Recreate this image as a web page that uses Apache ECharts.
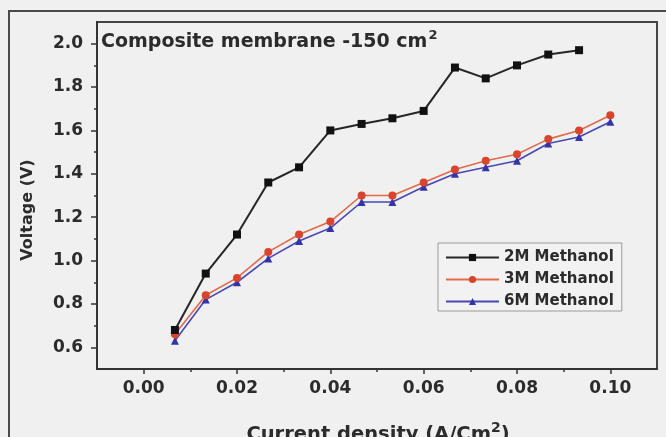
<!DOCTYPE html>
<html>
<head>
<meta charset="utf-8">
<script src="https://cdn.jsdelivr.net/npm/echarts@6/dist/echarts.min.js"></script>
<style>
  html, body { margin: 0; padding: 0; background: #f0f0f0; }
  #chart { width: 666px; height: 437px; }
</style>
</head>
<body>
<div id="chart"></div>
<script>
// Current density (A/cm²) for 1..15 A over a 150 cm² membrane
const currentDensity = [0.0067, 0.0133, 0.02, 0.0267, 0.0333, 0.04, 0.0467, 0.0533,
                        0.06, 0.0667, 0.0733, 0.08, 0.0867, 0.0933, 0.1];

// Cell voltage (V) for each methanol concentration
const volt2M = [0.68, 0.94, 1.12, 1.36, 1.43, 1.60, 1.63, 1.656, 1.69, 1.89, 1.84, 1.90, 1.95, 1.97];
const volt3M = [0.66, 0.84, 0.92, 1.04, 1.12, 1.18, 1.30, 1.30, 1.36, 1.42, 1.46, 1.49, 1.56, 1.60, 1.67];
const volt6M = [0.63, 0.82, 0.90, 1.01, 1.09, 1.15, 1.27, 1.27, 1.34, 1.40, 1.43, 1.46, 1.54, 1.57, 1.64];

const seriesNames = ['2M Methanol', '3M Methanol', '6M Methanol'];

// Axis tick positions
const xMajorTicks = [0, 0.02, 0.04, 0.06, 0.08, 0.10];
const xMinorTicks = [0.01, 0.03, 0.05, 0.07, 0.09];
const yMajorTicks = [0.6, 0.8, 1.0, 1.2, 1.4, 1.6, 1.8, 2.0];
const yMinorTicks = [0.7, 0.9, 1.1, 1.3, 1.5, 1.7, 1.9];

const pairs = (xs, ys) => ys.map((y, i) => [xs[i], y]);

const FONT = 'DejaVu Sans';
const INK = '#2b2b2b';
const X_MIN = -0.01, X_MAX = 0.11, Y_MIN = 0.5, Y_MAX = 2.1;
const GRID = { left: 97, right: 9, top: 22, bottom: 68 };

const tickLine = { color: '#333', width: 1.5 };

const chart = echarts.init(document.getElementById('chart'), null, { renderer: 'canvas' });

chart.setOption({
  backgroundColor: '#f0f0f0',
  animation: false,
  grid: [
    Object.assign({
      show: true,
      borderColor: '#454545',
      borderWidth: 2,
      backgroundColor: 'transparent',
      containLabel: false,
      outerBoundsMode: 'none'
    }, GRID),
    // same rectangle, carries the short minor ticks
    Object.assign({ show: false, containLabel: false, outerBoundsMode: 'none' }, GRID)
  ],
  xAxis: [
    {
      gridIndex: 0, type: 'value', min: X_MIN, max: X_MAX, interval: 0.01,
      axisLine: { show: true, onZero: false, lineStyle: { color: '#333', width: 2 } },
      axisTick: { show: true, customValues: xMajorTicks, length: 5, lineStyle: tickLine },
      axisLabel: {
        customValues: xMajorTicks, margin: 11,
        fontFamily: FONT, fontWeight: 'bold', fontSize: 17, color: INK,
        formatter: v => v.toFixed(2)
      },
      splitLine: { show: false }
    },
    {
      gridIndex: 1, type: 'value', min: X_MIN, max: X_MAX, interval: 0.01,
      position: 'bottom',
      axisLine: { show: false, onZero: false },
      axisTick: { show: true, customValues: xMinorTicks, length: 3, lineStyle: tickLine },
      axisLabel: { show: false },
      splitLine: { show: false }
    }
  ],
  yAxis: [
    {
      gridIndex: 0, type: 'value', min: Y_MIN, max: Y_MAX, interval: 0.1,
      axisLine: { show: true, onZero: false, lineStyle: { color: '#333', width: 2 } },
      axisTick: { show: true, customValues: yMajorTicks, length: 6, lineStyle: tickLine },
      axisLabel: {
        customValues: yMajorTicks, margin: 14,
        fontFamily: FONT, fontWeight: 'bold', fontSize: 17, color: INK,
        formatter: v => v.toFixed(1)
      },
      splitLine: { show: false }
    },
    {
      gridIndex: 1, type: 'value', min: Y_MIN, max: Y_MAX, interval: 0.1,
      position: 'left',
      axisLine: { show: false, onZero: false },
      axisTick: { show: true, customValues: yMinorTicks, length: 3, lineStyle: tickLine },
      axisLabel: { show: false },
      splitLine: { show: false }
    }
  ],
  legend: {
    orient: 'vertical',
    left: 438, top: 243,
    padding: [6, 8, 1, 7],
    itemGap: 5,
    itemWidth: 53, itemHeight: 9,
    borderColor: '#9a9a9a', borderWidth: 1,
    backgroundColor: '#f2f2f2',
    textStyle: { fontFamily: FONT, fontWeight: 'bold', fontSize: 15, color: INK, lineHeight: 17 },
    data: seriesNames
  },
  series: [
    {
      name: seriesNames[0], type: 'line', xAxisIndex: 0, yAxisIndex: 0,
      data: pairs(currentDensity, volt2M),
      symbol: 'rect', symbolSize: 8,
      lineStyle: { color: '#262626', width: 2 },
      itemStyle: { color: '#111111' },
      z: 4
    },
    {
      name: seriesNames[1], type: 'line', xAxisIndex: 0, yAxisIndex: 0,
      data: pairs(currentDensity, volt3M),
      symbol: 'circle', symbolSize: 8,
      lineStyle: { color: '#e2694a', width: 1.6 },
      itemStyle: { color: '#d8442c' },
      z: 3
    },
    {
      name: seriesNames[2], type: 'line', xAxisIndex: 0, yAxisIndex: 0,
      data: pairs(currentDensity, volt6M),
      symbol: 'triangle', symbolSize: 8,
      lineStyle: { color: '#4848b4', width: 1.6 },
      itemStyle: { color: '#3434a6' },
      z: 2
    }
  ],
  graphic: [
    {
      // outer figure frame
      type: 'rect', silent: true, z: 0,
      shape: { x: 9, y: 11, width: 720, height: 520 },
      style: { fill: 'none', stroke: '#4a4a4a', lineWidth: 2 }
    },
    {
      type: 'text', left: 101, top: 29, z: 10,
      style: {
        text: '{a|Composite membrane -150 cm}{s|2}',
        rich: {
          a: { fontFamily: FONT, fontWeight: 'bold', fontSize: 19, fill: INK, lineHeight: 23, verticalAlign: 'bottom' },
          s: { fontFamily: FONT, fontWeight: 'bold', fontSize: 13, fill: INK, lineHeight: 23, verticalAlign: 'top', padding: [0, 0, 11, 1] }
        }
      }
    },
    {
      type: 'text', x: 28, y: 210, rotation: Math.PI / 2, z: 10,
      style: {
        text: 'Voltage (V)',
        fontFamily: FONT, fontWeight: 'bold', fontSize: 16, fill: INK,
        align: 'center', verticalAlign: 'middle'
      }
    },
    {
      type: 'text', x: 378, y: 433, z: 10,
      style: {
        text: '{a|Current density (A/Cm}{s|2}{a|)}',
        align: 'center', verticalAlign: 'middle',
        rich: {
          a: { fontFamily: FONT, fontWeight: 'bold', fontSize: 19.5, fill: INK, lineHeight: 24, verticalAlign: 'bottom' },
          s: { fontFamily: FONT, fontWeight: 'bold', fontSize: 14, fill: INK, lineHeight: 24, verticalAlign: 'top', padding: [0, 0, 12, 0] }
        }
      }
    }
  ]
});
</script>
</body>
</html>
